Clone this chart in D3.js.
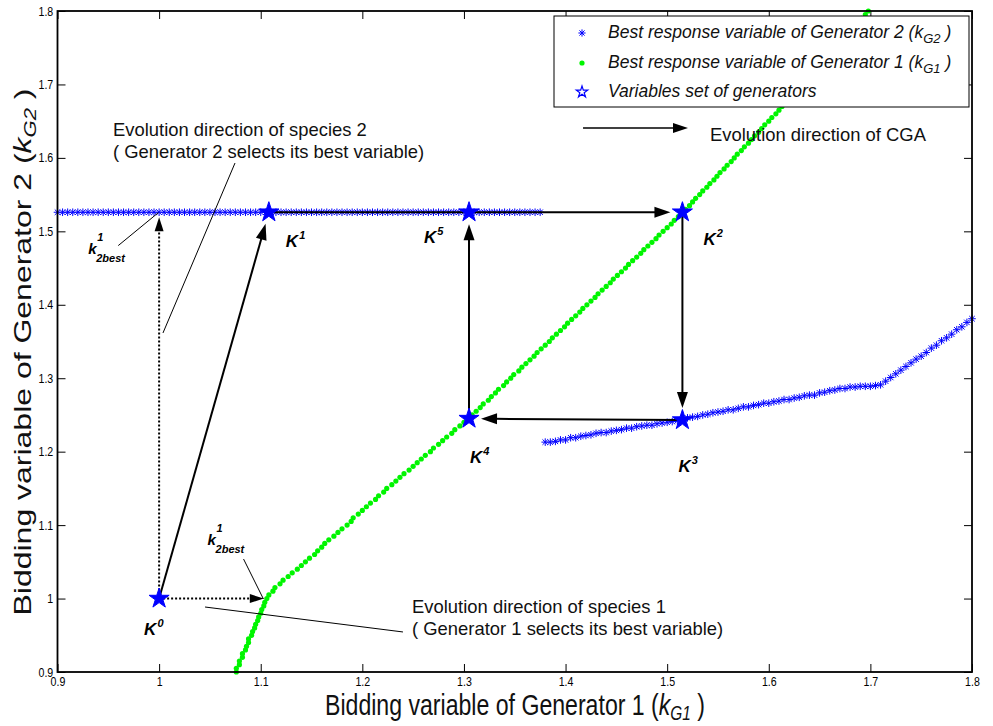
<!DOCTYPE html>
<html>
<head>
<meta charset="utf-8">
<script src="https://cdn.jsdelivr.net/npm/d3@7"></script>
<style>
  body { margin: 0; background: #fff; }
  svg { display: block; font-family: "Liberation Sans", Arial, Helvetica, sans-serif; }
</style>
</head>
<body>
<svg id="chart" width="993" height="726"></svg>
<script>
// Sampling grid of bidding variables (x for Generator 2's response, y for Generator 1's response)
const grid = [
  0.900,0.905,0.910,0.915,0.920,0.925,0.930,0.935,0.940,0.945,
  0.950,0.955,0.960,0.965,0.970,0.975,0.980,0.985,0.990,0.995,
  1.000,1.005,1.010,1.015,1.020,1.025,1.030,1.035,1.040,1.045,
  1.050,1.055,1.060,1.065,1.070,1.075,1.080,1.085,1.090,1.095,
  1.100,1.105,1.110,1.115,1.120,1.125,1.130,1.135,1.140,1.145,
  1.150,1.155,1.160,1.165,1.170,1.175,1.180,1.185,1.190,1.195,
  1.200,1.205,1.210,1.215,1.220,1.225,1.230,1.235,1.240,1.245,
  1.250,1.255,1.260,1.265,1.270,1.275,1.280,1.285,1.290,1.295,
  1.300,1.305,1.310,1.315,1.320,1.325,1.330,1.335,1.340,1.345,
  1.350,1.355,1.360,1.365,1.370,1.375,1.380,1.385,1.390,1.395,
  1.400,1.405,1.410,1.415,1.420,1.425,1.430,1.435,1.440,1.445,
  1.450,1.455,1.460,1.465,1.470,1.475,1.480,1.485,1.490,1.495,
  1.500,1.505,1.510,1.515,1.520,1.525,1.530,1.535,1.540,1.545,
  1.550,1.555,1.560,1.565,1.570,1.575,1.580,1.585,1.590,1.595,
  1.600,1.605,1.610,1.615,1.620,1.625,1.630,1.635,1.640,1.645,
  1.650,1.655,1.660,1.665,1.670,1.675,1.680,1.685,1.690,1.695,
  1.700,1.705,1.710,1.715,1.720,1.725,1.730,1.735,1.740,1.745,
  1.750,1.755,1.760,1.765,1.770,1.775,1.780,1.785,1.790,1.795,
  1.800
];

// Best response of Generator 2 (k_G2) for each k_G1 on the grid
const blueY = [
  1.526,1.526,1.526,1.526,1.526,1.526,1.526,1.526,1.526,1.526,
  1.526,1.526,1.526,1.526,1.526,1.526,1.526,1.526,1.526,1.526,
  1.526,1.526,1.526,1.526,1.526,1.526,1.526,1.526,1.526,1.526,
  1.526,1.526,1.526,1.526,1.526,1.526,1.526,1.526,1.526,1.526,
  1.526,1.526,1.526,1.526,1.526,1.526,1.526,1.526,1.526,1.526,
  1.526,1.526,1.526,1.526,1.526,1.526,1.526,1.526,1.526,1.526,
  1.526,1.526,1.526,1.526,1.526,1.526,1.526,1.526,1.526,1.526,
  1.526,1.526,1.526,1.526,1.526,1.526,1.526,1.526,1.526,1.526,
  1.526,1.526,1.526,1.526,1.526,1.526,1.526,1.526,1.526,1.526,
  1.526,1.526,1.526,1.526,1.526,1.526,
  1.213,1.213,1.214,1.216,1.216,1.219,1.219,1.221,1.222,1.223,
  1.225,1.226,1.226,1.228,1.229,1.230,1.232,1.232,1.234,1.235,
  1.236,1.236,1.238,1.239,1.240,1.241,1.242,1.243,1.246,1.247,
  1.248,1.250,1.251,1.253,1.254,1.255,1.257,1.257,1.259,1.261,
  1.261,1.263,1.264,1.266,1.266,1.268,1.269,1.271,1.271,1.273,
  1.274,1.276,1.277,1.277,1.280,1.281,1.283,1.284,1.286,1.286,
  1.288,1.288,1.289,1.289,1.289,1.290,1.291,1.296,1.301,1.306,
  1.311,1.316,1.321,1.326,1.330,1.335,1.341,1.345,1.351,1.355,
  1.360,1.366,1.370,1.376,1.381
];

// Best response of Generator 1 (k_G1) for each k_G2 on the grid
const greenX = [
  1.076,1.076,1.079,1.079,1.082,1.082,1.085,1.086,1.088,1.088,
  1.091,1.092,1.094,1.095,1.097,1.098,1.100,1.101,1.103,1.104,1.106,
  1.108,1.112,1.114,1.119,1.122,1.127,1.131,1.136,1.140,1.144,
  1.148,1.153,1.156,1.160,1.163,1.167,1.172,1.176,1.180,1.185,
  1.189,1.191,1.196,1.200,1.204,1.208,1.213,1.216,1.221,1.224,
  1.229,1.233,1.237,1.241,1.246,1.250,1.254,1.258,1.262,1.267,
  1.270,1.275,1.279,1.283,1.288,1.291,1.296,1.300,1.305,
  1.308,1.312,1.316,1.319,1.324,1.327,1.331,1.334,1.339,1.342,
  1.346,1.349,1.354,1.357,1.361,1.365,1.369,1.372,1.376,1.380,
  1.384,1.387,1.391,1.395,1.399,1.402,1.406,1.410,1.414,1.417,
  1.421,1.425,1.429,1.432,1.436,1.440,
  1.444,1.447,1.451,1.455,1.459,1.462,1.466,1.470,1.474,1.477,
  1.481,1.485,1.489,1.492,1.496,1.500,1.504,1.507,1.511,1.515,
  1.518,1.522,1.525,1.528,1.532,1.535,1.539,1.542,1.546,1.549,
  1.552,1.556,1.559,1.563,1.566,1.569,1.573,1.576,1.580,1.583,
  1.586,1.590,1.593,1.596,1.600,1.603,1.607,1.610,
  1.613,1.617,1.620,1.623,1.626,1.630,1.633,1.636,1.639,1.643,
  1.646,1.649,1.652,1.656,1.659,1.662,1.665,1.669,1.672,1.675,
  1.678,1.682,1.685,1.688,1.691,1.695,1.698
];

// Variables set of generators visited by the co-evolution: K0 ... K5
const kNames = ["0", "1", "2", "3", "4", "5"];
const kX = [1.000, 1.108, 1.515, 1.515, 1.305, 1.305];
const kY = [1.000, 1.526, 1.526, 1.243, 1.245, 1.526];
// Path of the CGA through the variable sets
const kPath = [[0, 1], [1, 2], [2, 3], [3, 4], [4, 5]];
// Best responses reached from K0 by each species
const best2 = [1.000, 1.526];
const best1 = [1.104, 1.000];

const tickValues = [0.9, 1.0, 1.1, 1.2, 1.3, 1.4, 1.5, 1.6, 1.7, 1.8];
const tickLabels = ["0.9", "1", "1.1", "1.2", "1.3", "1.4", "1.5", "1.6", "1.7", "1.8"];

const legendLabels = [
  ["Best response variable of Generator 2 (k", "G2", " )"],
  ["Best response variable of Generator 1 (k", "G1", " )"],
  ["Variables set of generators", "", ""]
];

// ---------------------------------------------------------------
const svg = d3.select("#chart");
const L = 57.5, R = 972, T = 11, B = 672;
const x = d3.scaleLinear().domain([0.9, 1.8]).range([L, R]);
const y = d3.scaleLinear().domain([0.9, 1.8]).range([B, T]);
const BLUE = "#0000ff", GREEN = "#00f500";

svg.append("rect").attr("width", 993).attr("height", 726).attr("fill", "#fff");

// Axes with inward ticks on all four sides
const fmt = (d) => tickLabels[tickValues.indexOf(d)];
const ax = svg.append("g").attr("class", "axes");
const gB = ax.append("g").attr("transform", `translate(0,${B})`)
  .call(d3.axisBottom(x).tickValues(tickValues).tickFormat(fmt).tickSizeInner(-8).tickSizeOuter(0).tickPadding(5));
const gL = ax.append("g").attr("transform", `translate(${L},0)`)
  .call(d3.axisLeft(y).tickValues(tickValues).tickFormat(fmt).tickSizeInner(-8).tickSizeOuter(0).tickPadding(5));
ax.append("g").attr("transform", `translate(0,${T})`)
  .call(d3.axisTop(x).tickValues(tickValues).tickFormat("").tickSizeInner(-8).tickSizeOuter(0));
ax.append("g").attr("transform", `translate(${R},0)`)
  .call(d3.axisRight(y).tickValues(tickValues).tickFormat("").tickSizeInner(-8).tickSizeOuter(0));
ax.selectAll(".domain").remove();
ax.selectAll(".tick line").attr("stroke", "#000").attr("stroke-width", 1);
ax.selectAll("text").attr("font-size", 12.5).attr("fill", "#000")
  .attr("font-family", "'Liberation Sans', Arial, sans-serif");
gB.selectAll("text").attr("transform", "scale(0.85,1)");
gL.selectAll("text").attr("transform", "scale(0.85,1)");

// Best response of Generator 1: green dots
const plot = svg.append("g");
plot.append("g").selectAll("circle")
  .data(d3.zip(greenX, grid))
  .join("circle")
  .attr("cx", d => x(d[0])).attr("cy", d => y(d[1]))
  .attr("r", 2.6).attr("fill", GREEN);

// Best response of Generator 2: blue asterisks
const ast = (s) => `M${-s},0H${s}M0,${-s}V${s}M${-s*0.72},${-s*0.72}L${s*0.72},${s*0.72}M${-s*0.72},${s*0.72}L${s*0.72},${-s*0.72}`;
plot.append("g").selectAll("path")
  .data(d3.zip(grid, blueY))
  .join("path")
  .attr("transform", d => `translate(${x(d[0])},${y(d[1])})`)
  .attr("d", ast(3.8))
  .attr("fill", "none").attr("stroke", BLUE).attr("stroke-width", 1);

// Frame
svg.append("rect").attr("x", L).attr("y", T).attr("width", R - L).attr("height", B - T)
  .attr("fill", "none").attr("stroke", "#000").attr("stroke-width", 1.8);

// Arrow helper: line from p to q with a filled head whose tip sits `gap` px before q
function arrow(g, p, q, opt) {
  const o = Object.assign({ gap: 0, gapStart: 0, len: 16, half: 5.5, width: 2, dash: null }, opt);
  const dx = q[0] - p[0], dy = q[1] - p[1];
  const d = Math.hypot(dx, dy), ux = dx / d, uy = dy / d;
  const tip = [q[0] - ux * o.gap, q[1] - uy * o.gap];
  const base = [tip[0] - ux * o.len, tip[1] - uy * o.len];
  const line = g.append("line")
    .attr("x1", p[0] + ux * o.gapStart).attr("y1", p[1] + uy * o.gapStart)
    .attr("x2", base[0] + ux * 2).attr("y2", base[1] + uy * 2)
    .attr("stroke", "#000").attr("stroke-width", o.width);
  if (o.dash) line.attr("stroke-dasharray", o.dash);
  g.append("path")
    .attr("d", `M${tip[0]},${tip[1]}L${base[0] - uy * o.half},${base[1] + ux * o.half}L${base[0] + uy * o.half},${base[1] - ux * o.half}Z`)
    .attr("fill", "#000");
}

const ann = svg.append("g");
const P = (vx, vy) => [x(vx), y(vy)];

// Dotted moves from K0 to each species' best response
arrow(ann, P(kX[0], kY[0]), P(best2[0], best2[1]), { gap: 5, dash: "2,2", len: 14, half: 4.5 });
arrow(ann, P(kX[0], kY[0]), P(best1[0], best1[1]), { gap: 1, dash: "2,2", len: 14, half: 4.5 });

// Solid moves of the CGA
kPath.forEach(([a, b]) => {
  arrow(ann, P(kX[a], kY[a]), P(kX[b], kY[b]), { gap: 12 });
});

// CGA direction key
arrow(ann, P(1.4172, 1.6407), P(1.5205, 1.6407), { len: 15, half: 5, width: 1.6 });

// Thin leader lines
const leaders = [
  [[1.0747, 1.593], [1.0038, 1.3616]],   // species 2 note -> dotted vertical move
  [[1.0452, 0.9885], [1.2400, 0.9545]],  // dotted horizontal move -> species 1 note
  [[0.9598, 1.4806], [0.9993, 1.5255]],  // k_2best (upper) -> blue line
  [[1.0831, 1.0538], [1.1027, 0.9993]]   // k_2best (lower) -> green curve
];
leaders.forEach(([a, b]) => {
  ann.append("line")
    .attr("x1", x(a[0])).attr("y1", y(a[1])).attr("x2", x(b[0])).attr("y2", y(b[1]))
    .attr("stroke", "#000").attr("stroke-width", 1);
});

// Stars at the variable sets
const star = d3.symbol().type(d3.symbolStar).size(125);
ann.append("g").selectAll("path")
  .data(kX.map((v, i) => [v, kY[i]]))
  .join("path")
  .attr("transform", d => `translate(${x(d[0])},${y(d[1])})`)
  .attr("d", star).attr("fill", BLUE).attr("stroke", BLUE).attr("stroke-width", 1);

// K labels, offset from their stars
const kOffset = [[-15, 36], [17, 35], [21, 33], [-4, 52], [1, 44], [-45, 31]];
const lab = svg.append("g").attr("font-weight", "bold").attr("font-style", "italic");
kNames.forEach((n, i) => {
  const t = lab.append("text")
    .attr("x", x(kX[i]) + kOffset[i][0]).attr("y", y(kY[i]) + kOffset[i][1])
    .attr("font-size", 17);
  t.append("tspan").text("K");
  t.append("tspan").attr("font-size", 11).attr("dy", -8).attr("dx", 1).text(n);
});

// k^1_2best labels at the start of the short leaders
function kBestLabel(px, py) {
  const t = lab.append("text").attr("x", px).attr("y", py).attr("font-size", 15);
  t.append("tspan").text("k");
  lab.append("text").attr("x", px + 9).attr("y", py - 13).attr("font-size", 11).text("1");
  lab.append("text").attr("x", px + 8).attr("y", py + 8).attr("font-size", 11).text("2best");
}
kBestLabel(x(leaders[2][0][0]) - 30, y(leaders[2][0][1]) + 8);
kBestLabel(x(leaders[3][0][0]) - 36, y(leaders[3][0][1]) - 14);

// Notes
const notes = svg.append("g").attr("font-size", 19).attr("fill", "#111");
function note(vx, vy, lines, gapPx) {
  lines.forEach((s, i) => {
    notes.append("text")
      .attr("transform", `translate(${x(vx)},${y(vy) + i * gapPx}) scale(0.97,1)`)
      .text(s);
  });
}
note(0.9546, 1.6298, ["Evolution direction of species 2", "( Generator 2 selects its best variable)"], 22);
note(1.2489, 0.9803, ["Evolution direction of species 1", "( Generator 1 selects its best variable)"], 22);
note(1.5421, 1.623, ["Evolution direction of CGA"], 0);

// Legend
const lg = svg.append("g");
lg.append("rect").attr("x", 554).attr("y", 16).attr("width", 415).attr("height", 91)
  .attr("fill", "#fff").attr("stroke", "#000").attr("stroke-width", 1);
const rowY = [33, 63, 92];
lg.append("path").attr("transform", `translate(582,${rowY[0]})`).attr("d", ast(3.6))
  .attr("stroke", BLUE).attr("fill", "none");
lg.append("circle").attr("cx", 582).attr("cy", rowY[1]).attr("r", 2.6).attr("fill", GREEN);
lg.append("path").attr("transform", `translate(582,${rowY[2]})`)
  .attr("d", d3.symbol().type(d3.symbolStar).size(40))
  .attr("fill", "none").attr("stroke", BLUE).attr("stroke-width", 1.2);
legendLabels.forEach((parts, i) => {
  const t = lg.append("text").attr("x", 608).attr("y", rowY[i] + 5)
    .attr("font-size", 17.5).attr("font-style", "italic").attr("fill", "#111");
  t.append("tspan").text(parts[0]);
  if (parts[1]) {
    t.append("tspan").attr("font-size", 13).attr("dy", 5).text(parts[1]);
    t.append("tspan").attr("dy", -5).text(parts[2]);
  }
});

// Axis titles
const xt = svg.append("text").attr("transform", "translate(515,715) scale(0.77,1)")
  .attr("text-anchor", "middle").attr("font-size", 30).attr("fill", "#111");
xt.append("tspan").text("Bidding variable of Generator 1 (");
xt.append("tspan").attr("font-style", "italic").text("k");
xt.append("tspan").attr("font-style", "italic").attr("font-size", 20).attr("dy", 5).text("G1");
xt.append("tspan").attr("dy", -5).text(" )");

const yt = svg.append("text").attr("transform", "translate(31,352) rotate(-90) scale(1,0.74)")
  .attr("text-anchor", "middle").attr("font-size", 32).attr("fill", "#111");
yt.append("tspan").text("Bidding variable of Generator 2 (");
yt.append("tspan").attr("font-style", "italic").text("k");
yt.append("tspan").attr("font-style", "italic").attr("font-size", 22).attr("dy", 7).text("G2");
yt.append("tspan").attr("dy", -7).text(" )");
</script>
</body>
</html>
